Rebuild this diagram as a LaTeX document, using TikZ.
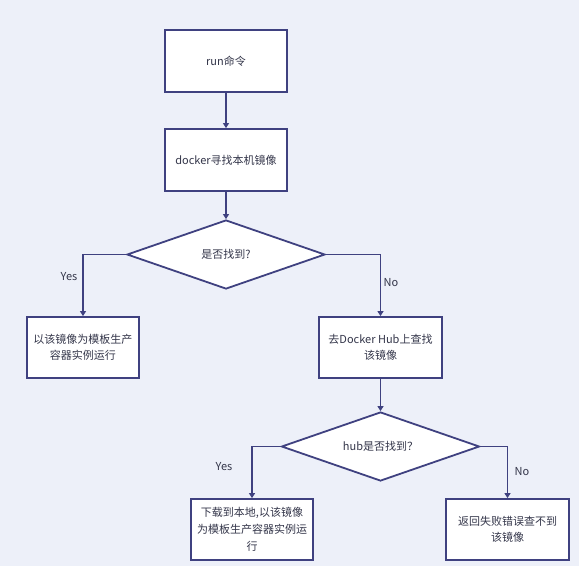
\documentclass[tikz,border=0pt]{standalone}
\usepackage{fontspec}
\setmainfont{Noto Sans CJK SC}
\usetikzlibrary{shapes.geometric,arrows.meta}
\definecolor{bgc}{HTML}{EDF0F9}
\definecolor{edge}{HTML}{3F4180}
\definecolor{txt}{HTML}{34364A}
\tikzset{
  box/.style={draw=edge, line width=1.8pt, fill=white, minimum width=122pt, minimum height=62pt, inner sep=2pt, align=center, text=txt, font=\fontsize{11pt}{16pt}\selectfont},
  dec/.style={diamond, draw=edge, line width=1.8pt, fill=white, minimum width=198pt, minimum height=69pt, shape aspect=2.87, inner sep=1pt, text=txt, font=\fontsize{11pt}{14pt}\selectfont},
  conn/.style={draw=edge, line width=1.1pt, -{Triangle[width=6pt,length=5pt]}},
  lab/.style={text=txt, font=\fontsize{11pt}{13pt}\selectfont, inner sep=0pt}
}
\begin{document}
\begin{tikzpicture}[x=1pt,y=-1pt]
\fill[bgc] (0,0) rectangle (579,566);
\useasboundingbox (0,0) rectangle (579,566);
\node[box] (b1) at (226,61) {run命令};
\node[box] (b2) at (226,160) {docker寻找本机镜像};
\node[dec] (d1) at (226,254.5) {是否找到?};
\node[box, minimum width=112pt, minimum height=61pt] (bl) at (83,347.5) {以该镜像为模板生产\\容器实例运行};
\node[box, minimum width=123pt, minimum height=61pt] (br) at (380.5,347.5) {去Docker Hub上查找\\该镜像};
\node[dec] (d2) at (380.5,446.5) {hub是否找到？};
\node[box, minimum width=122pt, minimum height=61pt, font=\fontsize{11pt}{17pt}\selectfont] (bbl) at (252,529.5) {下载到本地,以该镜像\\为模板生产容器实例运\\行};
\node[box, minimum width=123pt, minimum height=61pt] (bbr) at (507.5,529.5) {返回失败错误查不到\\该镜像};
\draw[conn] (b1.south) -- (b2.north);
\draw[conn] (b2.south) -- (d1.north);
\draw[conn] (d1.west) -| (bl.north);
\draw[conn] (d1.east) -| (br.north);
\draw[conn] (br.south) -- (d2.north);
\draw[conn] (d2.west) -| (bbl.north);
\draw[conn] (d2.east) -| (bbr.north);
\node[lab] (y1) at (69,277) {Yes};
\node[lab] (n1) at (391,283) {No};
\node[lab] (y2) at (224,467) {Yes};
\node[lab] (n2) at (522,472) {No};
\end{tikzpicture}
\end{document}
